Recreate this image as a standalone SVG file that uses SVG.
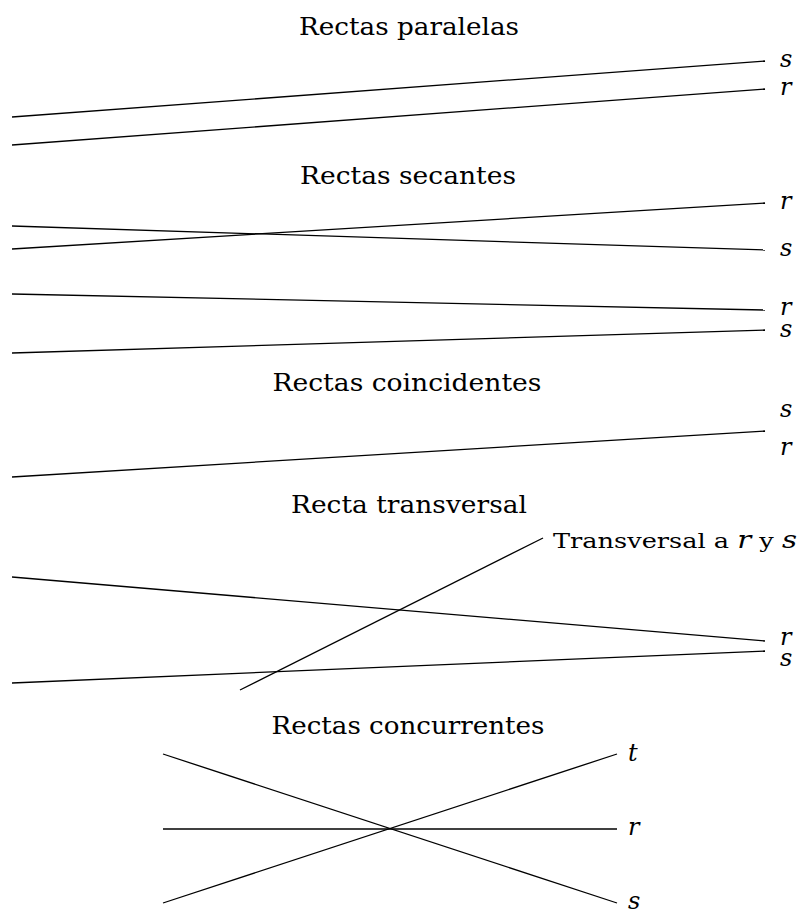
<svg xmlns="http://www.w3.org/2000/svg" width="799" height="915" viewBox="0 0 799 915">
<style>
.t{font-family:"DejaVu Serif",serif;font-size:24px;fill:#000;text-anchor:middle}
.l{font-family:"DejaVu Serif",serif;font-style:italic;font-size:24px;fill:#000}
.n{font-family:"DejaVu Serif",serif;font-size:21px;fill:#000}
.i{font-style:italic;font-size:24px}
line{stroke:#000;stroke-width:1.3}
</style>
<rect width="799" height="915" fill="#fff"/>
<g id="titles">
<text class="t" x="409" y="35" textLength="220" lengthAdjust="spacingAndGlyphs">Rectas paralelas</text>
<text class="t" x="408" y="184" textLength="216" lengthAdjust="spacingAndGlyphs">Rectas secantes</text>
<text class="t" x="407" y="391" textLength="269" lengthAdjust="spacingAndGlyphs">Rectas coincidentes</text>
<text class="t" x="409" y="513" textLength="236" lengthAdjust="spacingAndGlyphs">Recta transversal</text>
<text class="t" x="408" y="734" textLength="273" lengthAdjust="spacingAndGlyphs">Rectas concurrentes</text>
</g>
<g id="connectors">
<line x1="12" y1="117" x2="765" y2="61"/>
<line x1="12" y1="145" x2="765" y2="89"/>
<line x1="12" y1="226" x2="765" y2="250"/>
<line x1="12" y1="249" x2="765" y2="203"/>
<line x1="12" y1="294" x2="765" y2="310"/>
<line x1="12" y1="353" x2="765" y2="330"/>
<line x1="12" y1="477" x2="765" y2="431"/>
<line x1="12" y1="577" x2="765" y2="641"/>
<line x1="12" y1="683" x2="765" y2="651"/>
<line x1="240" y1="690" x2="543" y2="538"/>
<line x1="163" y1="754" x2="617" y2="903"/>
<line x1="163" y1="829" x2="617" y2="829"/>
<line x1="163" y1="903" x2="617" y2="754"/>
</g>
<g id="labels">
<text class="l" x="780" y="67">s</text>
<text class="l" x="780" y="95">r</text>
<text class="l" x="780" y="209">r</text>
<text class="l" x="780" y="256">s</text>
<text class="l" x="780" y="315">r</text>
<text class="l" x="780" y="337">s</text>
<text class="l" x="780" y="417">s</text>
<text class="l" x="780" y="455">r</text>
<text class="l" x="780" y="645">r</text>
<text class="l" x="780" y="666">s</text>
<text class="n" x="553" y="548" textLength="244" lengthAdjust="spacingAndGlyphs">Transversal a <tspan class="i">r</tspan> y <tspan class="i">s</tspan></text>
<text class="l" x="628" y="761">t</text>
<text class="l" x="628" y="835">r</text>
<text class="l" x="628" y="909">s</text>
</g>
</svg>
